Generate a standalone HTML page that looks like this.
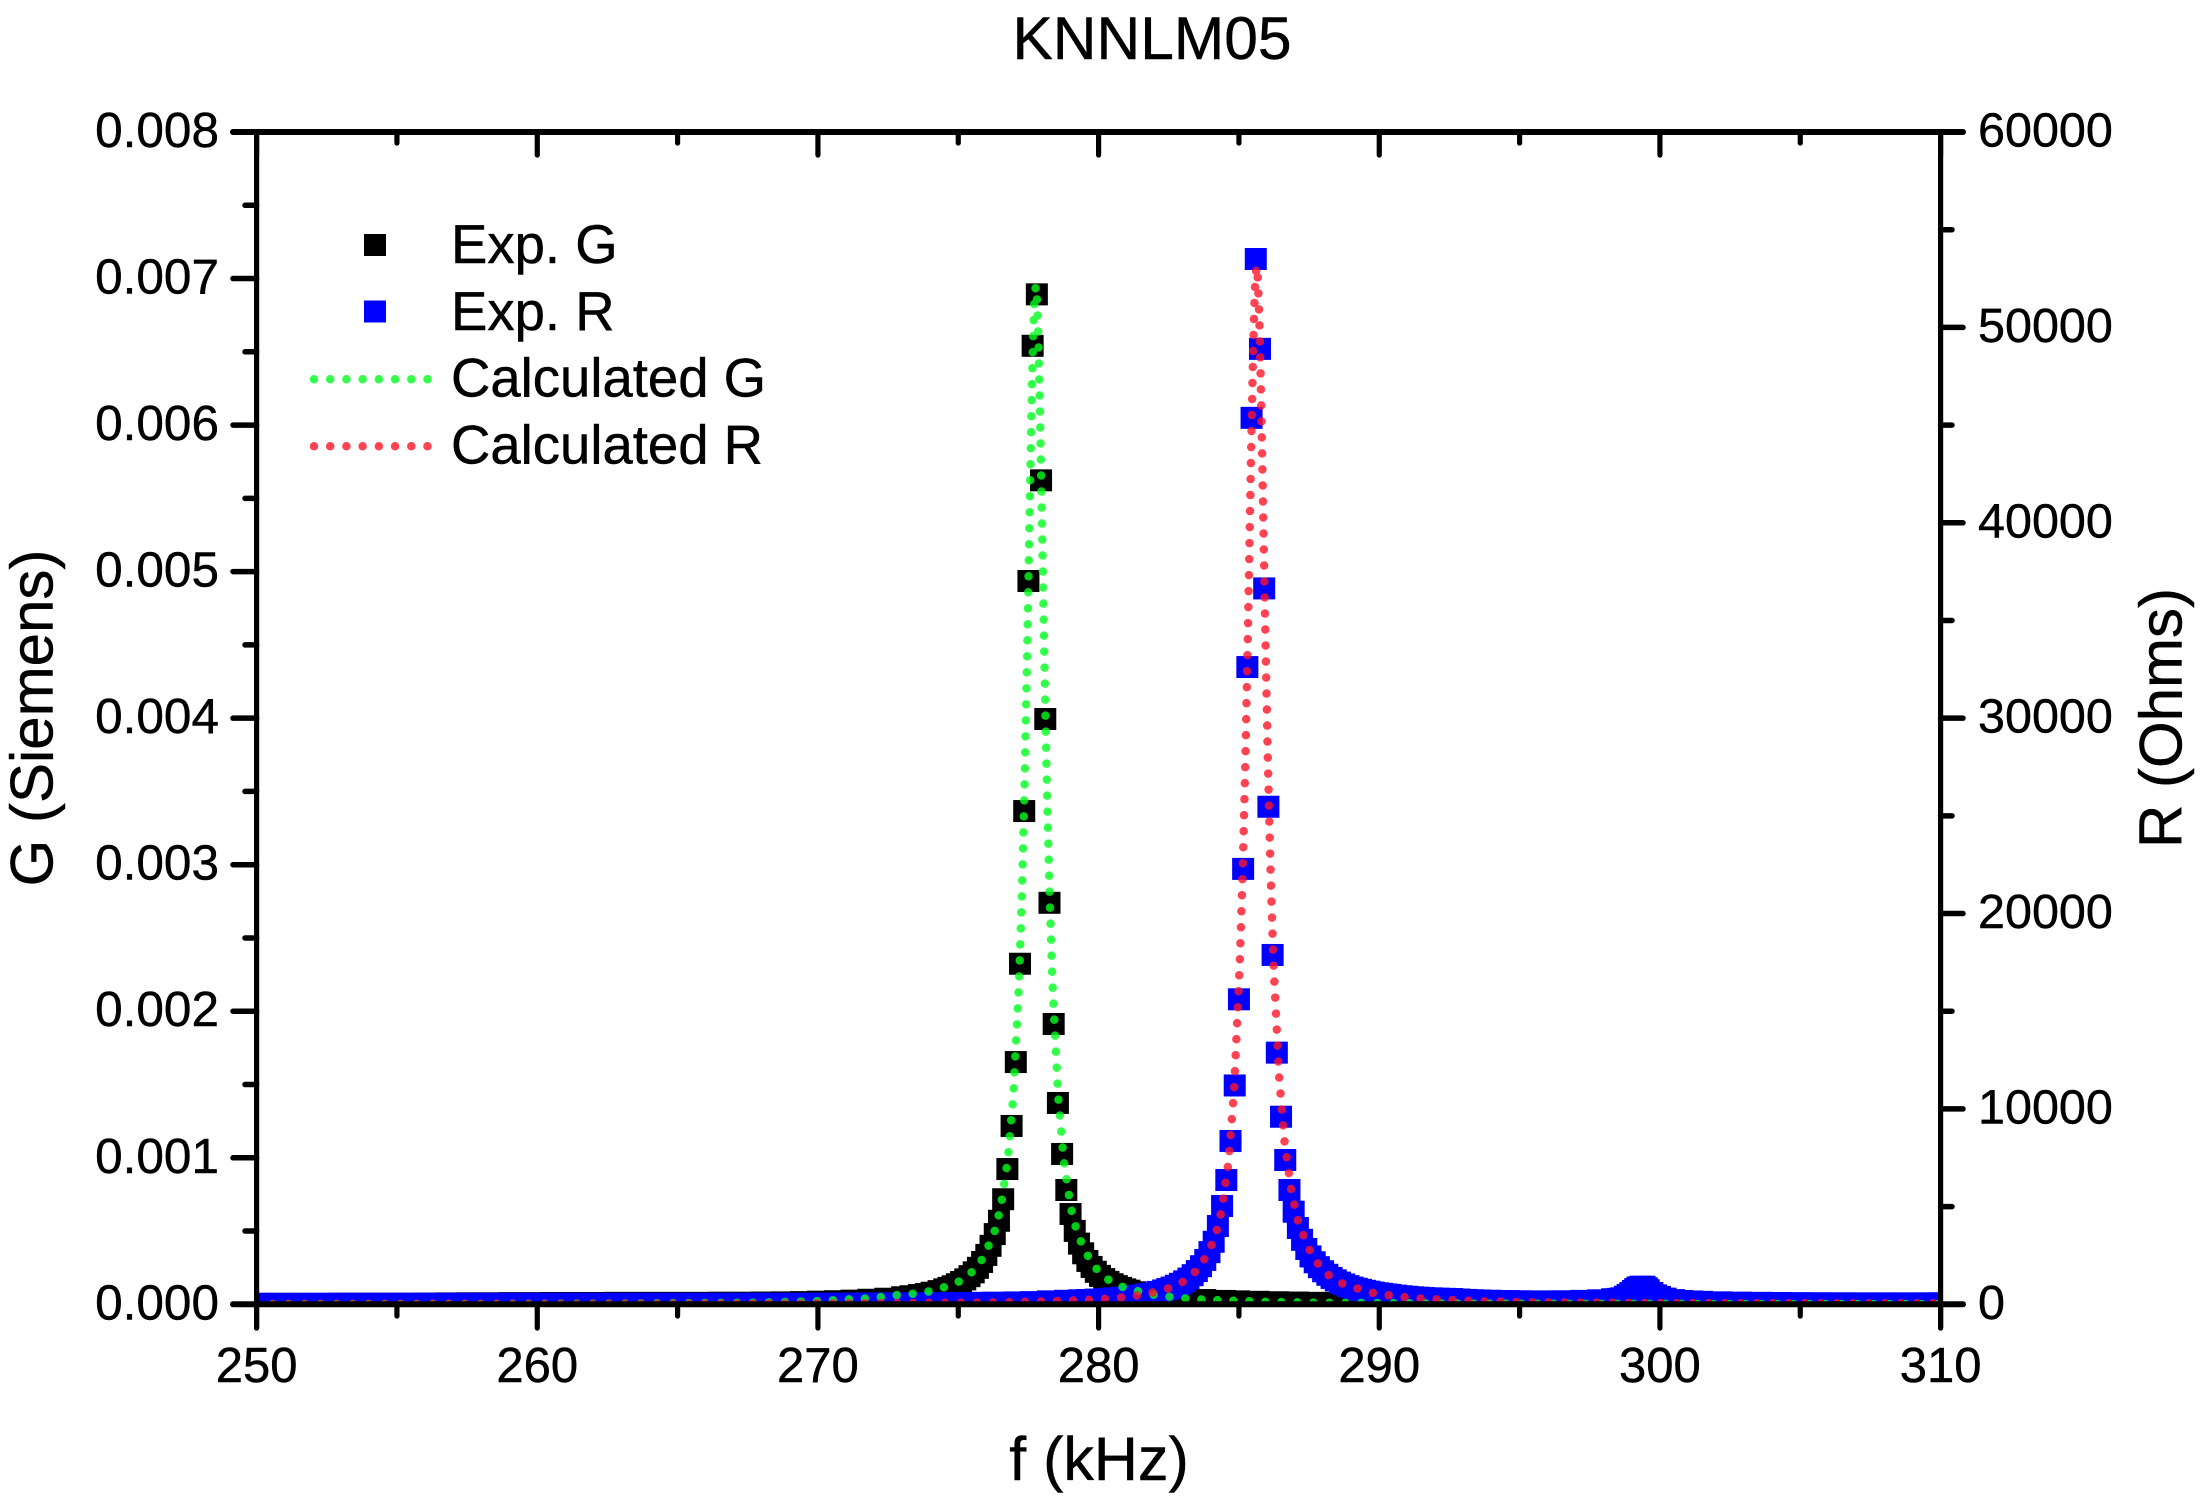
<!DOCTYPE html>
<html lang="en">
<head>
<meta charset="utf-8">
<title>KNNLM05</title>
<style>
  html, body { margin: 0; padding: 0; background: #fff; }
  svg { display: block; }
  text { font-family: "Liberation Sans", Arial, sans-serif; fill: #000; stroke: #000; stroke-width: 0.45px; }
</style>
</head>
<body>
<svg id="chart" xmlns="http://www.w3.org/2000/svg" width="2208" height="1505" viewBox="0 0 2208 1505">
  <defs>
    <clipPath id="plot-clip"><rect x="256.6" y="132" width="1684" height="1172.3"></rect></clipPath>
  </defs>
  <rect x="0" y="0" width="2208" height="1505" fill="#fff"></rect>
  <g id="marks" clip-path="url(#plot-clip)"></g>
  <g id="axes"></g>

  <text x="1152" y="59" font-size="60.5" text-anchor="middle">KNNLM05</text>
  <text x="1099" y="1480" font-size="61" text-anchor="middle">f (kHz)</text>
  <text transform="translate(52.7 718) rotate(-90)" font-size="60" text-anchor="middle">G (Siemens)</text>
  <text transform="translate(2181.7 718) rotate(-90)" font-size="60" text-anchor="middle">R (Ohms)</text>

  <g>
    <rect x="364" y="234" width="22" height="22" fill="#000"></rect>
    <text x="451" y="263" font-size="54.5">Exp. G</text>
    <rect x="364" y="300.5" width="22" height="22" fill="#0000ff"></rect>
    <text x="451" y="330" font-size="54.5">Exp. R</text>
    <line x1="314" y1="379.3" x2="429" y2="379.3" stroke="rgb(0,255,30)" stroke-opacity="0.8" stroke-width="8.5" stroke-linecap="round" stroke-dasharray="0.01 16.2"></line>
    <text x="451" y="396.7" font-size="54.5">Calculated G</text>
    <line x1="314" y1="446.3" x2="429" y2="446.3" stroke="rgb(255,20,40)" stroke-opacity="0.8" stroke-width="8.5" stroke-linecap="round" stroke-dasharray="0.01 16.2"></line>
    <text x="451" y="463.3" font-size="54.5">Calculated R</text>
  </g>
</svg>

<script>
// ---- Tick labels ----
const xTickLabels = ["250", "260", "270", "280", "290", "300", "310"];
const gTickLabels = ["0.000", "0.001", "0.002", "0.003", "0.004", "0.005", "0.006", "0.007", "0.008"];
const rTickLabels = ["0", "10000", "20000", "30000", "40000", "50000", "60000"];

// ---- Exp. G (frequency kHz, conductance S) ----
const expGFreq = [250,250.75,251.5,252.25,253,253.75,254.5,255.25,256,256.75,257.5,258.25,259,259.75,260.5,261.25,262,262.75,263.5,264.25,265,265.75,266.5,267.25,268,268.7,269.4,270,270.6,271.2,271.8,272.4,273,273.3,273.6,273.85,274.05,274.3,274.5,274.65,274.8,274.95,275.1,275.25,275.4,275.55,275.7,275.85,276,276.15,276.3,276.45,276.6,276.75,276.9,277.05,277.2,277.35,277.5,277.65,277.8,277.95,278.1,278.25,278.4,278.55,278.7,278.85,279,279.15,279.3,279.45,279.6,279.75,279.9,280.05,280.2,280.35,280.5,280.65,280.8,280.95,281.1,281.3,281.55,281.8,282,282.3,282.6,283.2,283.8,284.5,285,285.7,286.4,287.1,287.8,288.5,289.2,290,292,295,300,305,310];
const expGVal = [0.000003,0.000003,0.000003,0.000003,0.000004,0.000004,0.000004,0.000004,0.000005,0.000006,0.000007,0.000007,0.000008,0.000008,0.000009,0.000009,0.000009,0.00001,0.00001,0.00001,0.00001,0.00001,0.000011,0.000011,0.000012,0.000013,0.000015,0.000018,0.000021,0.000025,0.000031,0.000038,0.000048,0.000055,0.000063,0.00007,0.000079,0.00009,0.000102,0.000112,0.000123,0.000137,0.000152,0.00017,0.000192,0.000218,0.000249,0.000289,0.000337,0.000399,0.000479,0.00057,0.000717,0.000923,0.001217,0.001653,0.002324,0.003366,0.004936,0.006541,0.006892,0.005623,0.003994,0.00274,0.001913,0.001374,0.001026,0.00078,0.000616,0.000501,0.000414,0.000348,0.000296,0.000255,0.000222,0.000194,0.000172,0.000153,0.000137,0.000124,0.000112,0.000102,0.000093,0.000082,0.000072,0.000064,0.000058,0.00005,0.000044,0.000035,0.000029,0.000023,0.00002,0.000017,0.000014,0.000012,0.00001,0.000009,0.000009,0.000008,0.000007,0.000005,0.000004,0.000003,0.000003];

// ---- Exp. R (frequency kHz, resistance Ohm) ----
const expRFreq = [250,250.75,251.5,252.25,253,253.75,254.5,255.25,256,256.75,257.5,258.25,259,259.75,260.5,261.25,262,262.75,263.5,264.25,265,265.75,266.5,267.25,268,268.75,269.5,270.25,271,271.75,272.5,273.25,274,274.75,275.5,276.25,277,277.6,278.2,278.8,279.3,279.6,279.9,280.2,280.5,280.8,281.1,281.4,281.65,281.85,282.1,282.3,282.45,282.6,282.75,282.9,283.05,283.2,283.35,283.5,283.65,283.8,283.95,284.1,284.25,284.4,284.55,284.7,284.85,285,285.15,285.3,285.45,285.6,285.75,285.9,286.05,286.2,286.35,286.5,286.65,286.8,286.95,287.1,287.25,287.4,287.55,287.7,287.85,288,288.15,288.3,288.45,288.6,288.75,288.9,289.05,289.2,289.35,289.5,289.65,289.8,289.95,290.1,290.25,290.4,290.6,290.8,291,291.2,291.4,291.6,291.85,292.1,292.35,292.6,292.85,293.1,293.35,293.6,293.95,294.3,294.65,295,295.75,296.5,297.2,297.8,298.3,298.5,298.63,298.75,298.85,298.95,299.04,299.12,299.2,299.3,299.45,299.53,299.6,299.73,299.86,300,300.2,300.5,300.8,301.15,301.5,302.2,302.9,303.6,304.3,305,305.75,306.5,307.25,308,308.75,309.5,310];
const expRVal = [28,28,28,29,29,29,29,30,30,30,30,30,30,31,31,31,31,32,32,32,32,33,33,34,34,35,36,38,40,43,47,52,60,68,76,85,97,112,150,180,205,219,243,270,303,340,385,443,500,553,635,710,780,855,950,1050,1175,1315,1490,1700,1950,2270,2670,3200,4007,5030,6360,8360,11200,15610,22285,32615,45370,53500,48900,36640,25465,17880,12880,9600,7385,5850,4740,3905,3300,2830,2450,2150,1900,1690,1510,1350,1225,1110,1015,930,855,795,740,690,645,600,565,535,505,480,445,412,385,360,340,320,305,290,280,270,245,225,208,195,182,170,162,155,150,155,175,205,260,280,307,390,480,580,680,780,860,900,900,820,720,580,460,380,290,215,170,145,125,100,85,75,68,60,55,52,50,50,50,50,50];

// ---- Calculated G ----
const calcGFreq = [250,257.76,262.76,267.76,269.76,270.76,271.76,272.26,272.76,273.76,274.76,275.26,275.76,276.26,276.51,276.76,276.96,277.16,277.26,277.36,277.46,277.56,277.61,277.66,277.71,277.76,277.81,277.86,277.91,277.96,278.06,278.16,278.26,278.36,278.56,278.76,279.01,279.26,279.76,280.26,280.76,281.76,282.76,283.76,285.76,287.76,292.76,297.76,310];
const calcGVal = [0.0000015,0.0000028,0.0000051,0.0000114,0.00002,0.00003,0.00004,0.00005,0.000062,0.000078,0.00013,0.000178,0.000274,0.000472,0.00066,0.000979,0.001418,0.002176,0.002754,0.003519,0.004488,0.005588,0.006113,0.006552,0.006847,0.00695,0.006847,0.006552,0.006113,0.005588,0.004488,0.003519,0.002754,0.002176,0.001418,0.000979,0.00066,0.000472,0.000274,0.000178,0.000124,0.0000705,0.0000453,0.0000315,0.0000178,0.0000114,0.0000051,0.0000028,0.0000015];

// ---- Calculated R ----
const calcRFreq = [250,260,265.63,270.63,275.63,277.63,279.63,280.63,281.63,282.63,283.13,283.63,284.13,284.38,284.63,284.83,285.03,285.13,285.23,285.33,285.43,285.48,285.53,285.58,285.63,285.68,285.73,285.78,285.83,285.93,286.03,286.13,286.23,286.43,286.63,286.88,287.13,287.63,288.13,288.63,289.63,290.63,291.63,293.63,295.63,300.63,305.63,310];
const calcRVal = [8,15,25,40,85,130,221,318,494,872,1245,1916,3340,4770,7310,11000,17470,21970,27850,35170,43300,47110,50270,52375,53130,52375,50270,47110,43300,35170,27850,21970,17470,11700,8250,5690,4120,2395,1556,1090,619,398,276,156,100,60,50,45];

// ---- Axis functions ----
const SVG_NS = "http://www.w3.org/2000/svg";
const xAxis = f => 256.6 + (f - 250) * (1684 / 60);
const yG = g => 1304.3 - g * (1172.3 / 0.008);
const yR = r => 1304.3 - r * (1172.3 / 60000);

const marks = document.getElementById("marks");
const axes = document.getElementById("axes");

function drawSquares(parent, freqs, vals, yFn, color) {
  freqs.forEach(function (f, i) {
    const r = document.createElementNS(SVG_NS, "rect");
    r.setAttribute("x", xAxis(f) - 11);
    r.setAttribute("y", yFn(vals[i]) - 11);
    r.setAttribute("width", 22);
    r.setAttribute("height", 22);
    r.setAttribute("fill", color);
    
    
    parent.appendChild(r);
  });
}

function drawDotted(parent, freqs, vals, yFn, color) {
  const p = document.createElementNS(SVG_NS, "path");
  const d = freqs.map(function (f, i) {
    return (i ? "L" : "M") + xAxis(f).toFixed(2) + " " + yFn(vals[i]).toFixed(2);
  }).join(" ");
  p.setAttribute("d", d);
  p.setAttribute("fill", "none");
  p.setAttribute("stroke", color);
  p.setAttribute("stroke-opacity", "0.8");
  p.setAttribute("stroke-width", "8.5");
  p.setAttribute("stroke-linecap", "round");
  p.setAttribute("stroke-linejoin", "round");
  p.setAttribute("stroke-dasharray", "0.01 16");
  
  
  parent.appendChild(p);
}

function addGroup(name) {
  const g = document.createElementNS(SVG_NS, "g");
  
  
  marks.appendChild(g);
  return g;
}

drawSquares(addGroup("series-exp-g"), expGFreq, expGVal, yG, "#000000");
drawSquares(addGroup("series-exp-r"), expRFreq, expRVal, yR, "#0000ff");
drawDotted(addGroup("series-calculated-g"), calcGFreq, calcGVal, yG, "rgb(0,255,30)");
drawDotted(addGroup("series-calculated-r"), calcRFreq, calcRVal, yR, "rgb(255,20,40)");

function axisLine(x1, y1, x2, y2, w) {
  const l = document.createElementNS(SVG_NS, "line");
  l.setAttribute("x1", x1);
  l.setAttribute("y1", y1);
  l.setAttribute("x2", x2);
  l.setAttribute("y2", y2);
  l.setAttribute("stroke", "#000");
  l.setAttribute("stroke-width", w);
  l.setAttribute("stroke-linecap", "round");
  
  
  axes.appendChild(l);
}

function tickText(str, x, y, anchor, size) {
  const t = document.createElementNS(SVG_NS, "text");
  t.setAttribute("x", x);
  t.setAttribute("y", y);
  t.setAttribute("font-size", size);
  t.setAttribute("text-anchor", anchor);
  
  
  t.textContent = str;
  axes.appendChild(t);
}

const X0 = xAxis(250), X1 = xAxis(310), Y0 = yG(0), Y1 = yG(0.008);

// Spines
axisLine(X0, Y1, X0, 1328, 5.2);
axisLine(X1, Y1, X1, 1328, 5.2);
axisLine(233, Y1, 1963, Y1, 6);
axisLine(233, Y0, 1963, Y0, 6);

// X ticks: outward on the bottom, inward on the top
xTickLabels.forEach(function (label, i) {
  const f = Number(label);
  axisLine(xAxis(f), Y0, xAxis(f), 1328, 5.2);
  axisLine(xAxis(f), Y1, xAxis(f), 155, 5.2);
  tickText(label, xAxis(f), 1382, "middle", 49);
  if (i < xTickLabels.length - 1) {
    const m = f + (Number(xTickLabels[i + 1]) - f) / 2;
    axisLine(xAxis(m), Y0, xAxis(m), 1316, 5.2);
    axisLine(xAxis(m), Y1, xAxis(m), 143, 5.2);
  }
});

// Left (G) ticks
gTickLabels.forEach(function (label, i) {
  const v = Number(label);
  axisLine(233, yG(v), X0, yG(v), 5.5);
  tickText(label, 219, yG(v) + 15, "end", 49.5);
  if (i < gTickLabels.length - 1) {
    const m = v + (Number(gTickLabels[i + 1]) - v) / 2;
    axisLine(245, yG(m), X0, yG(m), 5.5);
  }
});

// Right (R) ticks
rTickLabels.forEach(function (label, i) {
  const v = Number(label);
  axisLine(X1, yR(v), 1963, yR(v), 5.5);
  tickText(label, 1978, yR(v) + 14.5, "start", 48.5);
  if (i < rTickLabels.length - 1) {
    const m = v + (Number(rTickLabels[i + 1]) - v) / 2;
    axisLine(X1, yR(m), 1952, yR(m), 5.5);
  }
});
</script>
</body>
</html>
